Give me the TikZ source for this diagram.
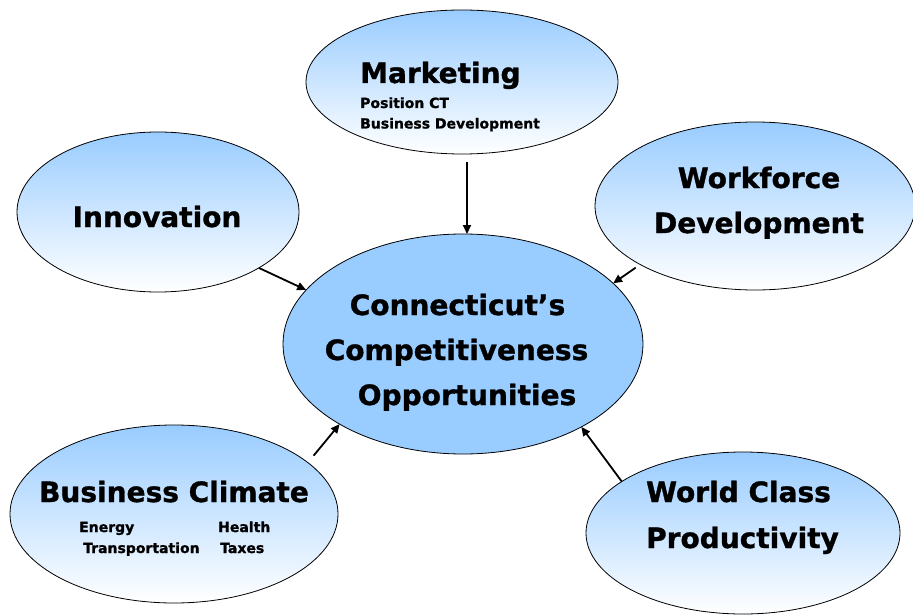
\documentclass[tikz,border=0pt]{standalone}
\usepackage{fontspec}
\setmainfont{DejaVu Sans}[BoldFeatures={FakeBold=1.2}]
\usetikzlibrary{arrows.meta,shapes.geometric}
\definecolor{skyblue}{HTML}{99CCFF}
\tikzset{
  bubble/.style={ellipse, draw=black, line width=0.8pt, inner sep=0pt, outer sep=0pt,
    top color=skyblue, bottom color=white},
  hub/.style={ellipse, draw=black, line width=0.8pt, inner sep=0pt, outer sep=0pt, fill=skyblue},
  bigtext/.style={font=\fontsize{28}{34}\selectfont\bfseries, inner sep=0pt, anchor=base},
  subtext/.style={font=\fontsize{14}{16}\selectfont\bfseries, inner sep=0pt, anchor=base west},
  link/.style={line width=1.8pt, -{Triangle[length=9pt,width=8pt]}}
}

\begin{document}
\begin{tikzpicture}[x=1pt,y=-1pt]

    \useasboundingbox (0,0) rectangle (913,615);
    \fill[white] (0,0) rectangle (913,615);

    % ellipses
    \node[bubble, minimum width=312pt, minimum height=144pt] (mkt) at (462,82) {};
    \node[bubble, minimum width=282pt, minimum height=160pt] (inn) at (158,212) {};
    \node[bubble, minimum width=320pt, minimum height=168pt] (wf) at (755,206) {};
    \node[hub, minimum width=360pt, minimum height=220pt] (cen) at (463,344) {};
    \node[bubble, minimum width=328pt, minimum height=178pt] (bc) at (174,514) {};
    \node[bubble, minimum width=314pt, minimum height=162pt] (wc) at (743,533) {};

    % labels
    \node[bigtext, anchor=base west] (mktT) at (360,83) {Marketing};
    \node[subtext] (mktA) at (360,108) {Position CT};
    \node[subtext] (mktB) at (360,128.5) {Business Development};

    \node[bigtext] (innT) at (157,227) {Innovation};

    \node[bigtext] (wfA) at (759,188) {Workforce};
    \node[bigtext] (wfB) at (759,233) {Development};

    \node[bigtext] (cenA) at (457.5,315) {Connecticut’s};
    \node[bigtext] (cenB) at (456.5,360) {Competitiveness};
    \node[bigtext] (cenC) at (467,405) {Opportunities};

    \node[bigtext] (bcT) at (174,502) {Business Climate};
    \node[subtext] (bcA) at (79,532) {Energy};
    \node[subtext] (bcB) at (218,532) {Health};
    \node[subtext] (bcC) at (83,553) {Transportation};
    \node[subtext] (bcD) at (220,553) {Taxes};

    \node[bigtext] (wcA) at (738.5,502) {World Class};
    \node[bigtext] (wcB) at (742.5,548) {Productivity};

    % arrows into the hub
    \draw[link] ([xshift=5pt,yshift=-8pt]mkt.south) -- ([xshift=5pt]mkt.south |- cen.north); % marketing
    \draw[link] (inn.-29) -- (cen.161.5); % innovation
    \draw[link, shorten <=5.5pt] (wf.207) -- (cen.22.6); % workforce
    \draw[link, shorten <=9pt] (bc.21.7) -- (cen.213.9); % business climate
    \draw[link] (wc.157.8) -- (cen.325.9); % world class

\end{tikzpicture}
\end{document}
